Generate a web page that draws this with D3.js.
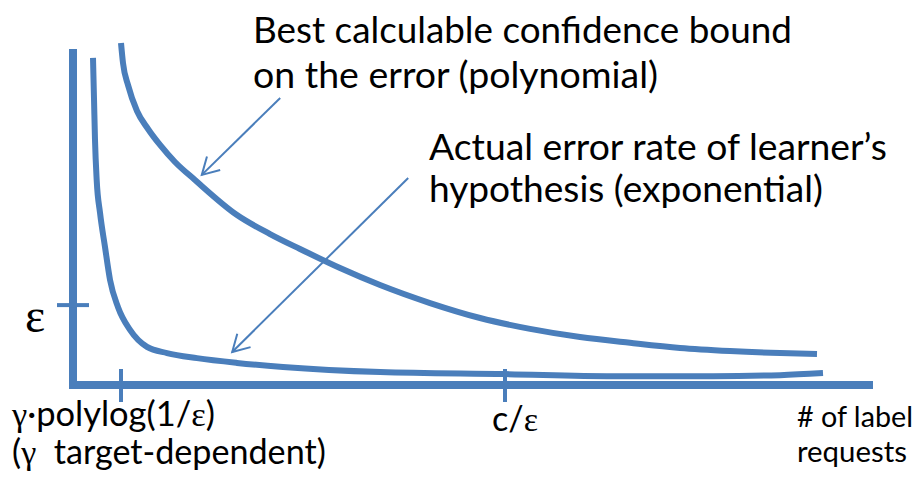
<!DOCTYPE html>
<html><head><meta charset="utf-8">
<script src="https://cdn.jsdelivr.net/npm/d3@7"></script>
<style>html,body{margin:0;padding:0;background:#fff;overflow:hidden}</style>
</head><body>
<svg id="chart" width="919" height="482"></svg>
<script>
// ---- data (arbitrary units: x = # label requests, y = error) ----
const boundX = [6.0, 6.25, 6.88, 8.0, 9.38, 10.88, 12.75, 15.25, 20.5, 24.63, 28.38, 33.38, 38.38, 44.63, 50.88, 57.13, 63.38, 69.63, 75.88, 82.13, 88.38, 93.0];
const boundY = [100.6, 94.7, 88.2, 80.6, 75.3, 70.6, 65.6, 60.3, 50.0, 44.4, 40.0, 34.4, 29.4, 24.1, 19.7, 16.5, 14.1, 12.4, 10.9, 10.0, 9.4, 9.1];
const errorX = [2.5, 2.63, 2.75, 2.96, 3.38, 4.0, 4.63, 5.63, 7.13, 9.25, 11.75, 15.5, 20.5, 26.25, 38.4, 54.0, 67.5, 80.0, 88.4, 93.75];
const errorY = [96.2, 83.8, 72.1, 60.3, 50.6, 40.6, 30.9, 22.9, 16.2, 11.2, 9.4, 7.9, 6.5, 5.3, 3.8, 3.2, 2.6, 2.6, 2.9, 3.5];
const xTickValues = [6.0, 54.0];
const yTickValues = [23.5];
const yTickLabels = ["ε"];
const boundLabel = ["Best calculable confidence bound", "on the error (polynomial)"];
const errorLabel = ["Actual error rate of learner’s", "hypothesis (exponential)"];
const xAxisLabel = ["# of label", "requests"];
// annotation arrows: [fromX, fromY, toX, toY] in data units
const arrowBound = [25.9, 84.4, 16.1, 61.8];
const arrowError = [41.9, 60.9, 19.9, 9.7];

const blue = "#4a7ebb";
const svg = d3.select("#chart");
const x = d3.scaleLinear().domain([0, 100]).range([73, 873]);
const y = d3.scaleLinear().domain([0, 100]).range([385, 45]);

// axes
svg.append("line").attr("x1", x(0)).attr("x2", x(0)).attr("y1", y(98.8)).attr("y2", y(0) + 3)
  .attr("stroke", blue).attr("stroke-width", 8);
svg.append("line").attr("x1", x(0) - 4).attr("x2", x(100)).attr("y1", y(0)).attr("y2", y(0))
  .attr("stroke", blue).attr("stroke-width", 8);

// ticks
svg.selectAll(".xt").data(xTickValues).enter().append("line")
  .attr("x1", d => x(d)).attr("x2", d => x(d)).attr("y1", y(0) - 16).attr("y2", y(0) + 17)
  .attr("stroke", blue).attr("stroke-width", 4);
svg.selectAll(".yt").data(yTickValues).enter().append("line")
  .attr("x1", x(0) - 16).attr("x2", x(0) + 16).attr("y1", d => y(d)).attr("y2", d => y(d))
  .attr("stroke", blue).attr("stroke-width", 4);

// curves
const line = d3.line().x(d => x(d[0])).y(d => y(d[1])).curve(d3.curveMonotoneX);
svg.append("path").datum(d3.zip(boundX, boundY)).attr("d", line)
  .attr("fill", "none").attr("stroke", blue).attr("stroke-width", 6);
svg.append("path").datum(d3.zip(errorX, errorY)).attr("d", line)
  .attr("fill", "none").attr("stroke", blue).attr("stroke-width", 6);

// arrows
function arrow(a) {
  const x1 = x(a[0]), y1 = y(a[1]), x2 = x(a[2]), y2 = y(a[3]);
  svg.append("line").attr("x1", x1).attr("y1", y1).attr("x2", x2).attr("y2", y2)
    .attr("stroke", blue).attr("stroke-width", 2);
  const ang = Math.atan2(y1 - y2, x1 - x2), L = 19, sp = 0.52;
  const p = [[x2 + L * Math.cos(ang + sp), y2 + L * Math.sin(ang + sp)], [x2, y2],
             [x2 + L * Math.cos(ang - sp), y2 + L * Math.sin(ang - sp)]];
  svg.append("path").attr("d", d3.line()(p)).attr("fill", "none")
    .attr("stroke", blue).attr("stroke-width", 2).attr("stroke-linejoin", "miter");
}
arrow(arrowBound);
arrow(arrowError);

// text helpers
const sans = "Lato, 'Open Sans', sans-serif";
const serif = "'Liberation Serif', 'DejaVu Serif', serif";
function textLine(parts, tx, ty, fs, width) {
  const t = svg.append("text").attr("x", tx).attr("y", ty).attr("font-family", sans)
    .attr("font-size", fs).attr("fill", "#000").style("white-space", "pre");
  parts.forEach(p => {
    const s = t.append("tspan").text(p[0]);
    if (p[1]) s.attr("font-family", serif);
  });
  if (width) {
    const w = t.node().getComputedTextLength();
    t.attr("font-size", fs * width / w);
  }
  return t;
}

textLine([[boundLabel[0]]], 253, 43, 32, 539);
textLine([[boundLabel[1]]], 253, 88, 32, 405);
textLine([[errorLabel[0]]], 429, 160, 32, 458);
textLine([[errorLabel[1]]], 429, 202, 32, 394);
textLine([["γ", 1], ["·polylog(1/"], ["ε", 1], [")"]], 12, 426, 28, 203);
textLine([["("], ["γ", 1], ["  target-dependent)"]], 12, 464, 28, 314);
textLine([["c/"], ["ε", 1]], 492, 431, 28, 46);
textLine([[xAxisLabel[0]]], 797, 427, 27, 116);
textLine([[xAxisLabel[1]]], 797, 462, 27, 110);
svg.selectAll(".yl").data(yTickLabels).enter().append("text")
  .attr("x", 25).attr("y", (d, i) => y(yTickValues[i]) + 27)
  .attr("font-family", serif).attr("font-size", 48).attr("fill", "#000").text(d => d);
</script>
</body></html>
